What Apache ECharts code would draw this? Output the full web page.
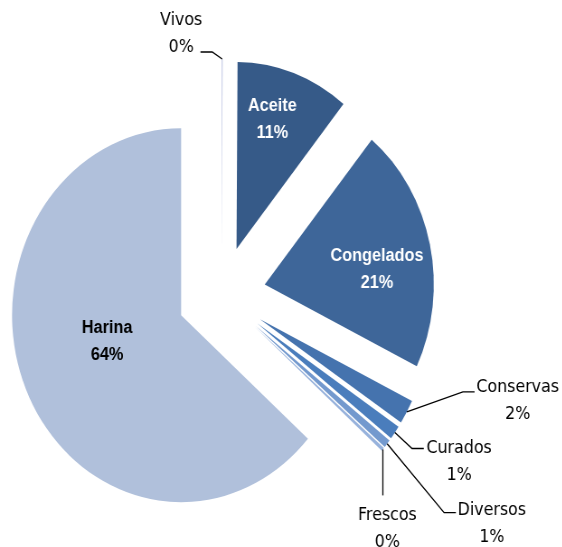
<!DOCTYPE html>
<html>
<head>
<meta charset="utf-8">
<script src="https://cdn.jsdelivr.net/npm/echarts@6/dist/echarts.min.js"></script>
<style>
  html, body { margin: 0; padding: 0; background: #fff; overflow: hidden; }
  #wrap { width: 562px; height: 547px; overflow: hidden; }
  /* the source picture is squeezed sideways, so draw wider and squeeze it */
  #chart { width: 622px; height: 547px; transform: scaleX(0.904); transform-origin: 0 0; }
</style>
</head>
<body>
<div id="wrap"><div id="chart"></div></div>
<script>
  const NAMES = ['Vivos', 'Aceite', 'Congelados', 'Conservas', 'Curados', 'Diversos', 'Frescos', 'Harina']
  const VALUES = [0.1, 10.8, 21.3, 2.1, 1.2, 0.7, 0.3, 63.5]
  const COLORS = ['#c6cce6', '#365a88', '#3e6699', '#4573ae', '#4a7dbc', '#7399ce', '#97b2dc', '#b0c0db']

  const CENTER = [245, 295]
  const RADIUS = 187
  const EXPLODE = 49
  const LINE_H = 27
  const SHOULDER = 13

  // labels drawn inside their slice: text colour, and a small move from the default spot
  const INSIDE = {
    Aceite: { color: '#fff', nudge: [7, -39] },
    Congelados: { color: '#fff', nudge: [30, 6] },
    Harina: { color: '#000', nudge: [6, -13] }
  }
  // outside labels: which side of the text the leader line reaches,
  // where the line ends (from the slice tip) and where the text sits (from that end)
  const LEADERS = {
    Vivos: { side: 'right', end: [-24, -7], text: [2, -18] },
    Conservas: { side: 'left', end: [75, -20], text: [2, 9] },
    Curados: { side: 'left', end: [32, 16], text: [3, 13] },
    Diversos: { side: 'left', end: [76, 69], text: [2, 11] },
    Frescos: { side: 'top', end: [0, 46], text: [5, 7] }
  }

  const FONT = '"DejaVu Sans", "Liberation Sans", sans-serif'
  const BOLD_FONT = '"Liberation Sans", Arial, sans-serif'

  // slices, pulled out from the middle
  const sliceData = NAMES.map((name, i) => ({
    name,
    value: VALUES[i],
    selected: true,
    itemStyle: { color: COLORS[i] }
  }))

  // same values again, invisible, only to carry the labels
  const labelData = NAMES.map((name, i) => {
    const item = { name, value: VALUES[i], itemStyle: { color: 'transparent' } }
    if (INSIDE[name]) {
      item.label = {
        position: 'inside',
        formatter: '{b|{b}}\n{b|{d}%}',
        rich: { b: { color: INSIDE[name].color, fontWeight: 'bold', fontSize: 18, lineHeight: LINE_H, fontFamily: BOLD_FONT, align: 'center' } }
      }
      item.labelLine = { show: false }
    }
    return item
  })

  function unit(p) {
    const dx = p[0] - CENTER[0]
    const dy = p[1] - CENTER[1]
    const len = Math.hypot(dx, dy) || 1
    return [dx / len, dy / len]
  }

  function placeLabel(params) {
    const name = NAMES[params.dataIndex]
    const r = params.labelRect
    const w = r.width
    const anchorX = (left) => params.align === 'left' ? left : params.align === 'right' ? left + w : left + w / 2

    if (INSIDE[name]) {
      const mx = r.x + w / 2
      const my = r.y + r.height / 2
      const u = unit([mx, my])
      const n = INSIDE[name].nudge
      const cx = mx + EXPLODE * u[0] + n[0]
      const cy = my + EXPLODE * u[1] + n[1]
      return { x: anchorX(cx - w / 2), y: cy }
    }

    const L = LEADERS[name]
    const pts = params.labelLinePoints
    if (!L || !pts) return {}
    const u = unit(pts[0])
    const tip = [pts[0][0] + EXPLODE * u[0], pts[0][1] + EXPLODE * u[1]]
    const end = [tip[0] + L.end[0], tip[1] + L.end[1]]
    let left, midY, bend
    if (L.side === 'left') {
      left = end[0] + L.text[0]
      midY = end[1] + L.text[1]
      bend = [end[0] - SHOULDER, end[1]]
    } else if (L.side === 'right') {
      left = end[0] + L.text[0] - w
      midY = end[1] + L.text[1]
      bend = [end[0] + SHOULDER, end[1]]
    } else {
      left = end[0] + L.text[0] - w / 2
      midY = end[1] + L.text[1] + LINE_H
      bend = [end[0], end[1]]
    }
    return { x: anchorX(left), y: midY, labelLinePoints: [tip, bend, end] }
  }

  const chart = echarts.init(document.getElementById('chart'))
  chart.setOption({
    animation: false,
    backgroundColor: '#fff',
    series: [
      {
        type: 'pie',
        center: CENTER,
        radius: RADIUS,
        startAngle: 90,
        clockwise: true,
        selectedMode: 'multiple',
        selectedOffset: EXPLODE,
        silent: true,
        label: { show: false },
        labelLine: { show: false },
        data: sliceData
      },
      {
        type: 'pie',
        z: 3,
        center: CENTER,
        radius: RADIUS,
        startAngle: 90,
        clockwise: true,
        silent: true,
        percentPrecision: 0,
        label: {
          show: true,
          position: 'outside',
          formatter: '{n|{b}}\n{n|{d}%}',
          rich: { n: { color: '#000', fontSize: 17.5, lineHeight: LINE_H, fontFamily: FONT, align: 'center' } }
        },
        labelLine: {
          show: true,
          length: 14,
          length2: 12,
          lineStyle: { color: '#000', width: 1.3 }
        },
        labelLayout: placeLabel,
        data: labelData
      }
    ]
  })
</script>
</body>
</html>
